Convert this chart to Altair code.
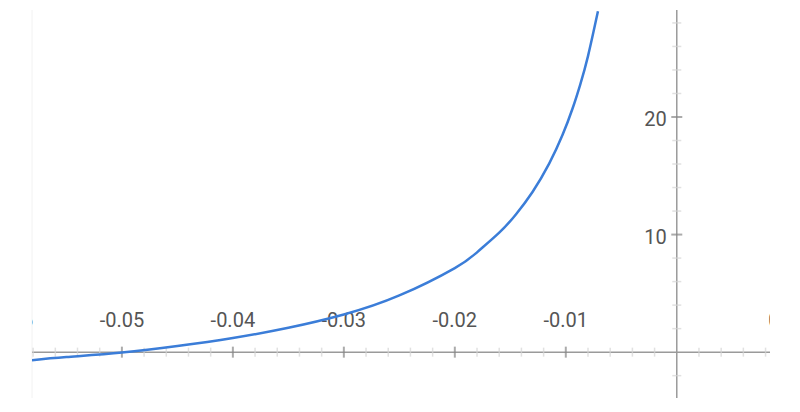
import altair as alt
import pandas as pd

# curve points
curve_x = [-0.0581, -0.055, -0.05, -0.045, -0.04, -0.035, -0.03, -0.025,
           -0.02, -0.018, -0.016, -0.0145, -0.013, -0.0115, -0.0103, -0.0094,
           -0.0087, -0.008, -0.0071]
curve_y = [-0.68, -0.42, -0.03, 0.52, 1.2, 2.07, 3.2, 4.82,
           7.15, 8.49, 10.16, 11.71, 13.62, 16.03, 18.46, 20.7,
           22.76, 25.18, 29.0]

x_domain = [-0.0581, 0.0084]
y_domain = [-3.9, 29.1]

x_major = [-0.06, -0.05, -0.04, -0.03, -0.02, -0.01, 0.01]
x_labels = ["-0.06", "-0.05", "-0.04", "-0.03", "-0.02", "-0.01", "0.01"]
x_minor = [-0.058, -0.056, -0.054, -0.052, -0.048, -0.046, -0.044, -0.042,
           -0.038, -0.036, -0.034, -0.032, -0.028, -0.026, -0.024, -0.022,
           -0.018, -0.016, -0.014, -0.012, -0.008, -0.006, -0.004, -0.002,
           0.002, 0.004, 0.006, 0.008]
y_major = [10, 20, 30]
y_labels = ["10", "20", "30"]
y_minor = [-2, 2, 4, 6, 8, 12, 14, 16, 18, 22, 24, 26, 28]

xs = alt.Scale(domain=x_domain, nice=False, zero=False)
ys = alt.Scale(domain=y_domain, nice=False, zero=False)

curve = pd.DataFrame({"x": curve_x, "y": curve_y})
xmaj = pd.DataFrame({"x": x_major, "lab": x_labels, "y": 0})
xmin = pd.DataFrame({"x": x_minor, "y": 0})
ymaj = pd.DataFrame({"y": y_major, "lab": y_labels, "x": 0})
ymin = pd.DataFrame({"y": y_minor, "x": 0})

X = lambda f: alt.X(f, type="quantitative", scale=xs, axis=None)
Y = lambda f: alt.Y(f, type="quantitative", scale=ys, axis=None)

axis_color = "#9a9a9a"
text_color = "#555555"

left_border = alt.Chart(pd.DataFrame({"x": [x_domain[0]]})).mark_rule(
    color="#f2f2f2", strokeWidth=1).encode(x=X("x"))

x_axis = alt.Chart(pd.DataFrame({"y": [0]})).mark_rule(
    color=axis_color, strokeWidth=1.5).encode(y=Y("y"))
y_axis = alt.Chart(pd.DataFrame({"x": [0]})).mark_rule(
    color=axis_color, strokeWidth=1.5).encode(x=X("x"))

xmin_t = alt.Chart(xmin).mark_tick(orient="vertical", size=9, thickness=1.5,
                                   color="#d4d4d4", clip=True).encode(x=X("x"), y=Y("y"))
xmaj_t = alt.Chart(xmaj).mark_tick(orient="vertical", size=11, thickness=2,
                                   color="#888888", clip=True).encode(x=X("x"), y=Y("y"))
ymin_t = alt.Chart(ymin).mark_tick(orient="horizontal", size=9, thickness=1.5,
                                   color="#d4d4d4", clip=True).encode(x=X("x"), y=Y("y"))
ymaj_t = alt.Chart(ymaj).mark_tick(orient="horizontal", size=11, thickness=2,
                                   color="#888888", clip=True).encode(x=X("x"), y=Y("y"))

xlab = alt.Chart(xmaj).mark_text(dy=-31, fontSize=20, font="Roboto", color=text_color,
                                 align="center", baseline="middle", clip=True).encode(
    x=X("x"), y=Y("y"), text="lab:N")
ylab = alt.Chart(ymaj).mark_text(dx=-10, dy=3, fontSize=20, font="Roboto", color=text_color,
                                 align="right", baseline="middle", clip=True).encode(
    x=X("x"), y=Y("y"), text="lab:N")

line = alt.Chart(curve).mark_line(color="#3b7dd8", strokeWidth=2.5, interpolate="natural",
                                  clip=True).encode(x=X("x"), y=Y("y"))

chart = alt.layer(left_border, x_axis, y_axis, xmin_t, ymin_t, xmaj_t, ymaj_t,
                  xlab, ylab, line).properties(
    width=738, height=388,
    padding={"left": 24, "top": 2, "right": 0, "bottom": 0},
    autosize=alt.AutoSizeParams(type="none"),
    background="white",
).configure_view(stroke=None)

chart.save("out.html", embed_options={"renderer": "svg", "actions": False})
